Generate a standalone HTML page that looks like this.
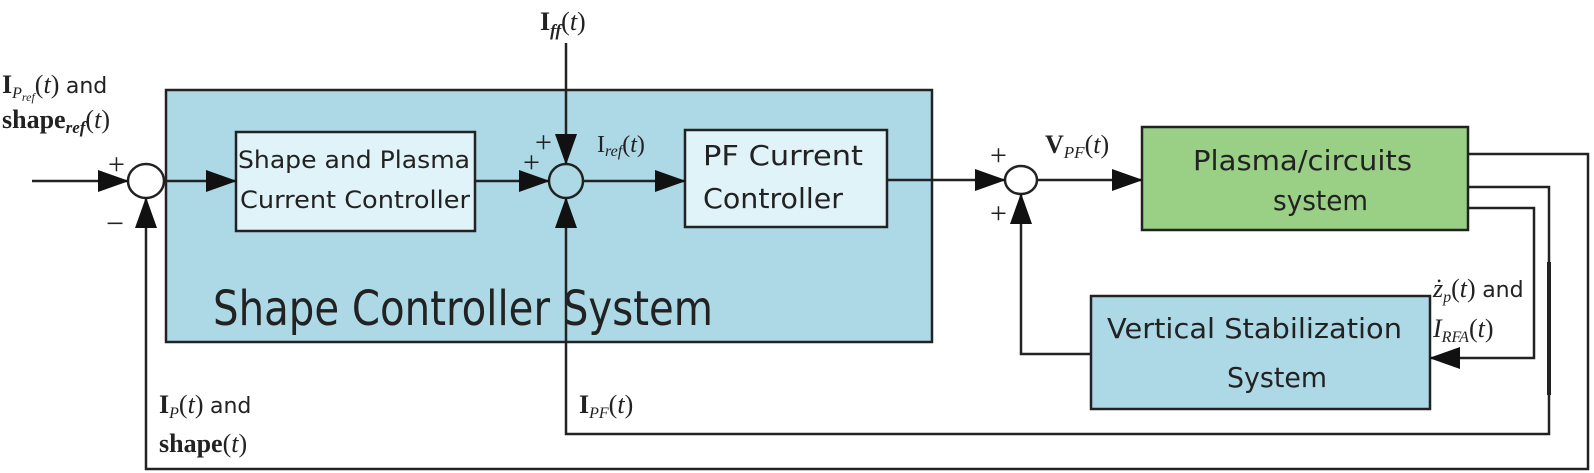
<!DOCTYPE html>
<html><head><meta charset="utf-8"><style>
html,body{margin:0;padding:0;background:#fff;}
svg{display:block;}
text{font-family:"DejaVu Sans","Liberation Sans",sans-serif;fill:#222;}
.m{font-family:"Liberation Serif",serif;}
</style></head><body>
<svg width="1594" height="473" viewBox="0 0 1594 473" xmlns="http://www.w3.org/2000/svg">
<defs>
<marker id="a" markerWidth="32" markerHeight="24" refX="30" refY="12" orient="auto" markerUnits="userSpaceOnUse">
<path d="M0,1 L31,12 L0,23 Z" fill="#111"/></marker>
</defs>
<g stroke="#222" stroke-width="2.5" fill="none">
<rect x="166" y="90" width="766" height="252" fill="#add8e6"/>
<rect x="236" y="132" width="239" height="99" fill="#e0f3f8"/>
<rect x="685" y="130" width="202" height="97" fill="#e0f3f8"/>
<rect x="1142" y="127" width="326" height="103" fill="#9acf86"/>
<rect x="1091" y="296" width="339" height="113" fill="#add8e6"/>
<ellipse cx="146" cy="181" rx="18" ry="17" fill="#fff"/>
<ellipse cx="566" cy="181" rx="17" ry="17" fill="#add8e6"/>
<ellipse cx="1021" cy="180" rx="16" ry="14" fill="#fff"/>
<path d="M32,181 H128" marker-end="url(#a)"/>
<path d="M164,181 H236" marker-end="url(#a)"/>
<path d="M475,181 H549" marker-end="url(#a)"/>
<path d="M583,181 H685" marker-end="url(#a)"/>
<path d="M566,43 V164" marker-end="url(#a)"/>
<path d="M887,180 H1005" marker-end="url(#a)"/>
<path d="M1037,180 H1142" marker-end="url(#a)"/>
<path d="M1468,154 H1588 V469 H146 V198" marker-end="url(#a)"/>
<path d="M1468,187 H1549 V434 H566 V198" marker-end="url(#a)"/>
<path d="M1468,208 H1534 V358 H1430" marker-end="url(#a)"/>
<path d="M1091,354 H1021 V194" marker-end="url(#a)"/>
<path d="M1549,262 V395" stroke-width="4"/>
</g>
<g>
<text x="238" y="168" font-size="24" textLength="232" lengthAdjust="spacingAndGlyphs">Shape and Plasma</text>
<text x="240" y="208" font-size="24" textLength="230" lengthAdjust="spacingAndGlyphs">Current Controller</text>
<text x="703" y="165" font-size="28" textLength="160" lengthAdjust="spacingAndGlyphs">PF Current</text>
<text x="703" y="208" font-size="28" textLength="140" lengthAdjust="spacingAndGlyphs">Controller</text>
<text x="1193" y="170" font-size="28" textLength="219" lengthAdjust="spacingAndGlyphs">Plasma/circuits</text>
<text x="1273" y="210" font-size="28" textLength="95" lengthAdjust="spacingAndGlyphs">system</text>
<text x="1107" y="338" font-size="28" textLength="295" lengthAdjust="spacingAndGlyphs">Vertical Stabilization</text>
<text x="1227" y="387" font-size="28" textLength="100" lengthAdjust="spacingAndGlyphs">System</text>
<text x="213" y="325" font-size="48" textLength="500" lengthAdjust="spacingAndGlyphs">Shape Controller System</text>
<text class="m" x="540" y="30" font-size="26" font-weight="bold">I<tspan font-size="17" dy="6" font-style="italic">ff</tspan><tspan dy="-6" font-weight="normal">(</tspan><tspan font-style="italic" font-weight="normal">t</tspan><tspan font-weight="normal">)</tspan></text>
<text class="m" x="2" y="93" font-size="26"><tspan font-weight="bold">I</tspan><tspan font-size="16" dy="5" font-style="italic">P<tspan font-size="12" dy="3">ref</tspan></tspan><tspan dy="-8">(</tspan><tspan font-style="italic">t</tspan>) <tspan font-family="DejaVu Sans" font-size="22">and</tspan></text>
<text class="m" x="2" y="128" font-size="26" font-weight="bold">shape<tspan font-size="17" dy="5" font-style="italic">ref</tspan><tspan dy="-5" font-weight="normal">(</tspan><tspan font-style="italic" font-weight="normal">t</tspan><tspan font-weight="normal">)</tspan></text>
<text class="m" x="597" y="152" font-size="24" fill="#444">I<tspan font-size="16" dy="4" font-style="italic">ref</tspan><tspan dy="-4">(</tspan><tspan font-style="italic">t</tspan>)</text>
<text class="m" x="1045" y="153" font-size="26"><tspan font-weight="bold">V</tspan><tspan font-size="17" dy="5" font-style="italic">PF</tspan><tspan dy="-5">(</tspan><tspan font-style="italic">t</tspan>)</text>
<text class="m" x="1433" y="297" font-size="26"><tspan font-style="italic">ż</tspan><tspan font-size="16" dy="5" font-style="italic">p</tspan><tspan dy="-5">(</tspan><tspan font-style="italic">t</tspan>) <tspan font-family="DejaVu Sans" font-size="22">and</tspan></text>
<text class="m" x="1433" y="337" font-size="26"><tspan font-style="italic">I</tspan><tspan font-size="16" dy="5" font-style="italic">RFA</tspan><tspan dy="-5">(</tspan><tspan font-style="italic">t</tspan>)</text>
<text class="m" x="159" y="413" font-size="26"><tspan font-weight="bold">I</tspan><tspan font-size="16" dy="5" font-style="italic">P</tspan><tspan dy="-5">(</tspan><tspan font-style="italic">t</tspan>) <tspan font-family="DejaVu Sans" font-size="22">and</tspan></text>
<text class="m" x="159" y="452" font-size="26" font-weight="bold">shape<tspan font-weight="normal">(</tspan><tspan font-style="italic" font-weight="normal">t</tspan><tspan font-weight="normal">)</tspan></text>
<text class="m" x="579" y="413" font-size="26"><tspan font-weight="bold">I</tspan><tspan font-size="16" dy="5" font-style="italic">PF</tspan><tspan dy="-5">(</tspan><tspan font-style="italic">t</tspan>)</text>
<text class="m" x="108" y="174" font-size="30" fill="#777">+</text>
<text class="m" x="106" y="234" font-size="32" fill="#777">−</text>
<text class="m" x="535" y="152" font-size="30" fill="#777">+</text>
<text class="m" x="523" y="172" font-size="30" fill="#777">+</text>
<text class="m" x="990" y="165" font-size="30" fill="#777">+</text>
<text class="m" x="990" y="223" font-size="30" fill="#777">+</text>
</g>
</svg>
</body></html>
